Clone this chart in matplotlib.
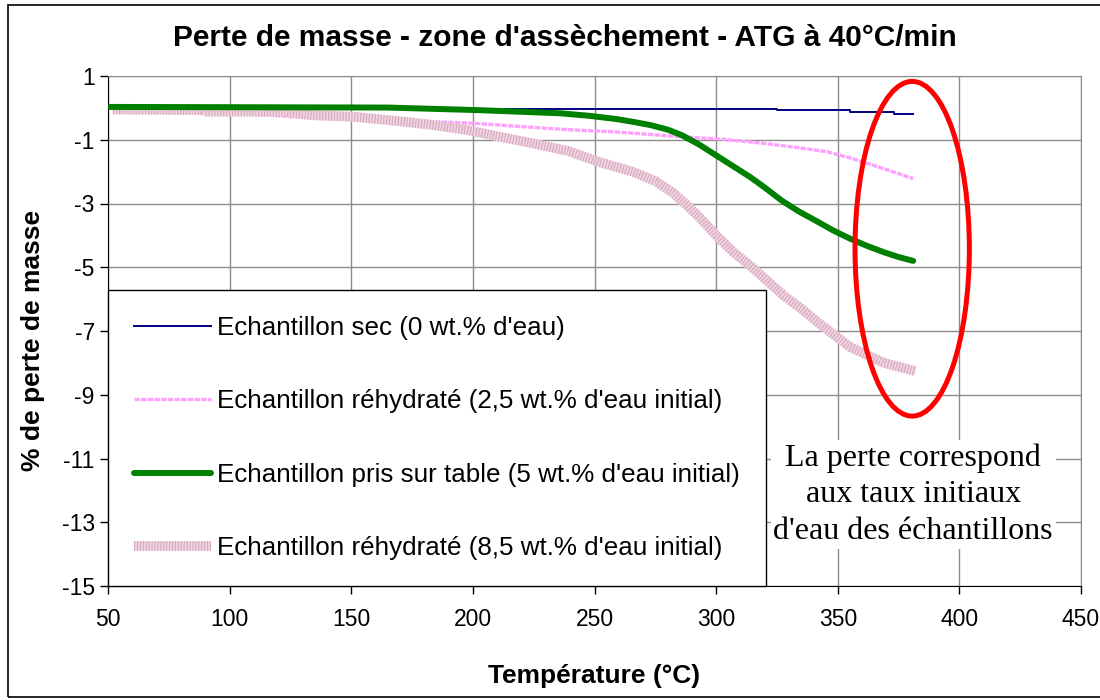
import matplotlib
matplotlib.use("Agg")
import matplotlib.pyplot as plt
from matplotlib.patches import Ellipse, Rectangle
from matplotlib.legend_handler import HandlerTuple

# Temperatures (°C) and mass loss (%)
temp_sec = [53, 325, 355, 373, 381]
perte_sec = [-0.02, -0.07, -0.14, -0.20, -0.20]

temp_25 = [53, 90, 115, 134, 160, 197, 211, 228, 243, 258, 272, 286, 302, 318, 332, 346, 356, 369, 381]
perte_25 = [-0.05, -0.12, -0.22, -0.32, -0.38, -0.47, -0.54, -0.63, -0.70, -0.75, -0.83, -0.91,
            -0.98, -1.10, -1.23, -1.38, -1.59, -1.91, -2.22]

temp_5 = [51, 165, 202, 236, 248, 259, 266, 273, 280, 286, 293, 300, 307, 314, 320, 327, 334,
          341, 348, 355, 362, 369, 375, 381]
perte_5 = [0.03, 0.01, -0.07, -0.17, -0.25, -0.35, -0.44, -0.54, -0.68, -0.86, -1.15, -1.49,
           -1.83, -2.17, -2.50, -2.91, -3.25, -3.54, -3.84, -4.10, -4.33, -4.53, -4.68, -4.80]

temp_85 = [52, 89, 90, 123, 134, 151, 170, 184, 198, 210, 225, 239, 252, 266, 275, 282, 288, 294,
           300, 307, 314, 321, 328, 335, 342, 355, 369, 382]
perte_85 = [-0.05, -0.07, -0.12, -0.12, -0.23, -0.28, -0.42, -0.54, -0.70, -0.89, -1.12, -1.35,
            -1.70, -2.01, -2.30, -2.65, -3.05, -3.50, -4.00, -4.52, -4.95, -5.43, -5.90, -6.30,
            -6.74, -7.50, -8.00, -8.26]

labels = ["Echantillon sec (0 wt.% d'eau)",
          "Echantillon réhydraté (2,5 wt.% d'eau initial)",
          "Echantillon pris sur table (5 wt.% d'eau initial)",
          "Echantillon réhydraté (8,5 wt.% d'eau initial)"]

x_ticks = [50, 100, 150, 200, 250, 300, 350, 400, 450]
y_ticks = [1, -1, -3, -5, -7, -9, -11, -13, -15]

plt.rcParams['font.family'] = ['Liberation Sans', 'DejaVu Sans']
plt.rcParams['axes.unicode_minus'] = False

fig = plt.figure(figsize=(11, 7), dpi=100)
ax = fig.add_axes([108/1100, 1-586/700, (1081-108)/1100, (586-76)/700])

l_sec, = ax.plot(temp_sec, perte_sec, color="#000080", lw=1.4, drawstyle="steps-post", zorder=3)
l_25, = ax.plot(temp_25, perte_25, color="#FFA0FF", lw=2.4, ls=(0, (1.6, 0.4)), zorder=4)
l_85a, = ax.plot(temp_85, perte_85, color="#F0D6E2", lw=7, solid_capstyle="butt", zorder=5)
l_85b, = ax.plot(temp_85, perte_85, color="#D8A8BE", lw=7, ls=(0, (0.12, 0.18)),
                 dash_capstyle="butt", zorder=5)
l_5, = ax.plot(temp_5, perte_5, color="#008000", lw=4.3, solid_capstyle="round", zorder=6)

ax.set_xlim(50, 450)
ax.set_ylim(-15, 1)
ax.set_xticks(x_ticks)
ax.set_yticks(y_ticks)
ax.tick_params(labelsize=16.5, direction="out", length=6, width=1)
ax.tick_params(axis="x", pad=10)
ax.grid(True, color="#8c8c8c", lw=1)
ax.set_axisbelow(True)
for s in ["top", "right"]:
    ax.spines[s].set_color("#8c8c8c")
for s in ["left", "bottom"]:
    ax.spines[s].set_color("black")

leg = ax.legend([l_sec, l_25, l_5, (l_85a, l_85b)], labels,
                handler_map={tuple: HandlerTuple(ndivide=1)},
                loc="lower left", bbox_to_anchor=(0, 0), borderaxespad=0,
                fontsize=18.7, handlelength=2.95, handletextpad=0.25, labelspacing=1.9,
                borderpad=1.0, fancybox=False, framealpha=1, edgecolor="black")
leg.get_frame().set_linewidth(1.0)
leg.set_zorder(10)

# red circle around the end points + comment
ax.add_patch(Ellipse((380.6, -4.42), 47, 10.5, fill=False, edgecolor="#FF0000", lw=3.6, zorder=8))
ax.text(381, -12.13, "La perte correspond\naux taux initiaux\nd'eau des échantillons",
        ha="center", va="center", fontsize=23, family=["Liberation Serif", "DejaVu Serif"],
        linespacing=1.35, zorder=9,
        bbox=dict(facecolor="white", edgecolor="none", pad=2))

fig.text(565/1100, 1-38/700, "Perte de masse - zone d'assèchement - ATG à 40°C/min",
         ha="center", va="center", fontsize=21.5, fontweight="bold")
fig.text(594/1100, 1-676/700, "Température (°C)", ha="center", va="center",
         fontsize=19, fontweight="bold")
fig.text(33/1100, 1-340/700, "% de perte de masse", ha="center", va="center",
         rotation=90, fontsize=19, fontweight="bold")

fig.patches.append(Rectangle((8/1100, 3/700), 1.2, 1-8/700, transform=fig.transFigure,
                             fill=False, edgecolor="black", lw=1.2))

fig.savefig("out.png", dpi=100)
